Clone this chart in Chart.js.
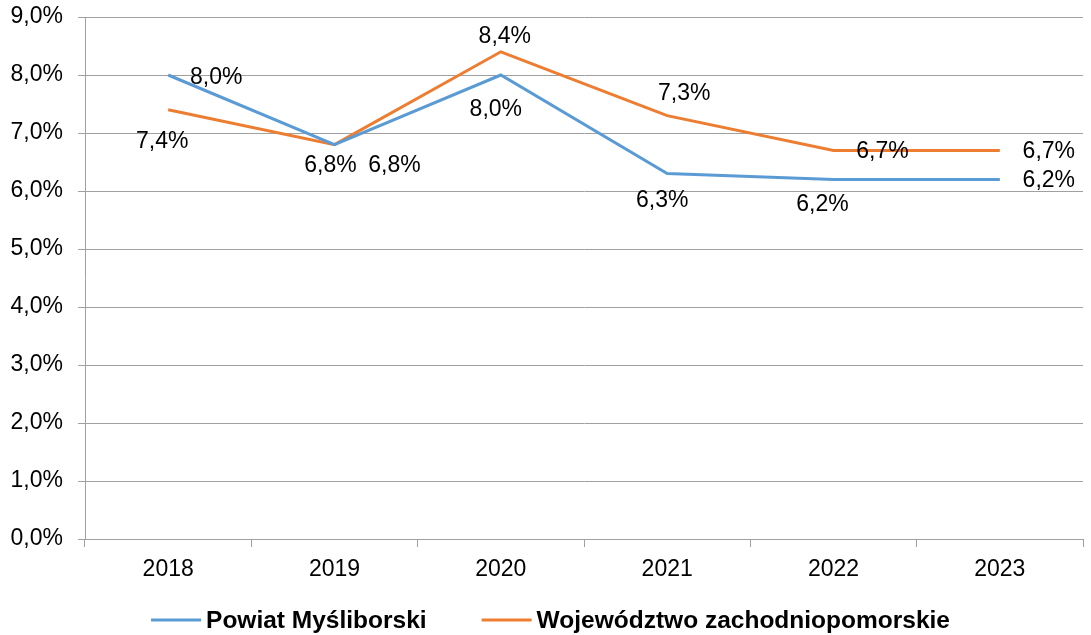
<!DOCTYPE html>
<html>
<head>
<meta charset="utf-8">
<script src="https://cdn.jsdelivr.net/npm/chart.js@4.4.1/dist/chart.umd.min.js"></script>
<style>
  html, body { margin: 0; padding: 0; background: #fff; }
  #wrap { width: 1091px; height: 635px; }
</style>
</head>
<body>
<div id="wrap"><canvas id="c" width="1091" height="635"></canvas></div>
<script>
// ---- data ----
const categories = ['2018', '2019', '2020', '2021', '2022', '2023'];
const seriesNames = ['Powiat Myśliborski', 'Województwo zachodniopomorskie'];
const powiatValues = [8.0, 6.8, 8.0, 6.3, 6.2, 6.2];
const wojewodztwoValues = [7.4, 6.8, 8.4, 7.3, 6.7, 6.7];
const yTicks = [0, 1, 2, 3, 4, 5, 6, 7, 8, 9];

// ---- label placement (offset of label centre from its point, px) ----
const powiatLabelOffsets = [[48, 3], [-4, 21], [-5, 35], [-5, 27], [-11, 25], [49, 1]];
const wojLabelOffsets = [[-6, 32], [60, 21], [4, -15], [17, -22], [49, 1], [49, 1]];

const FONT = '"Liberation Sans", Arial, sans-serif';
const fmt = v => v.toFixed(1).replace('.', ',') + '%';

const dataLabelPlugin = {
  id: 'dataLabels',
  afterDatasetsDraw(chart) {
    const ctx = chart.ctx;
    ctx.save();
    ctx.font = '23px ' + FONT;
    ctx.fillStyle = '#000';
    ctx.textAlign = 'center';
    ctx.textBaseline = 'middle';
    chart.data.datasets.forEach((ds, di) => {
      const meta = chart.getDatasetMeta(di);
      const offs = ds.labelOffsets;
      meta.data.forEach((pt, i) => {
        const o = offs[i];
        ctx.fillText(fmt(ds.data[i]), pt.x + o[0], pt.y + o[1]);
      });
    });
    ctx.restore();
  }
};

// custom bottom legend (line sample + bold text)
const legendPlugin = {
  id: 'customLegend',
  afterDraw(chart) {
    const ctx = chart.ctx;
    ctx.save();
    ctx.font = 'bold 24.5px ' + FONT;
    const lineW = 50, gap = 5, itemGap = 55;
    const items = chart.data.datasets.map(ds => ({
      text: ds.label, color: ds.borderColor, w: ctx.measureText(ds.label).width
    }));
    let total = 0;
    items.forEach((it, i) => { total += lineW + gap + it.w + (i ? itemGap : 0); });
    let x = (chart.width - total) / 2 + 5;
    const y = 620;
    items.forEach((it, i) => {
      if (i) x += itemGap;
      ctx.strokeStyle = it.color;
      ctx.lineWidth = 3;
      ctx.beginPath();
      ctx.moveTo(x, y);
      ctx.lineTo(x + lineW, y);
      ctx.stroke();
      x += lineW + gap;
      ctx.fillStyle = '#000';
      ctx.textAlign = 'left';
      ctx.textBaseline = 'middle';
      ctx.fillText(it.text, x, y + 1);
      x += it.w;
    });
    ctx.restore();
  }
};

const chart = new Chart(document.getElementById('c'), {
  type: 'line',
  data: {
    labels: categories,
    datasets: [
      {
        label: seriesNames[0],
        data: powiatValues,
        borderColor: '#5B9BD5',
        backgroundColor: '#5B9BD5',
        borderWidth: 3,
        pointRadius: 0,
        tension: 0,
        labelOffsets: powiatLabelOffsets
      },
      {
        label: seriesNames[1],
        data: wojewodztwoValues,
        borderColor: '#ED7D31',
        backgroundColor: '#ED7D31',
        borderWidth: 3,
        pointRadius: 0,
        tension: 0,
        labelOffsets: wojLabelOffsets
      }
    ]
  },
  options: {
    responsive: false,
    animation: false,
    devicePixelRatio: 1,
    layout: { padding: { left: 0, right: 8, top: 17, bottom: 44 } },
    plugins: {
      tooltip: { enabled: false },
      legend: { display: false }
    },
    scales: {
      x: {
        offset: true,
        grid: {
          offset: true,
          drawOnChartArea: false,
          drawTicks: true,
          tickLength: 8,
          color: '#a0a0a0'
        },
        border: { color: '#a0a0a0' },
        ticks: {
          color: '#000',
          padding: 9,
          maxRotation: 0,
          font: { family: FONT, size: 23 }
        },
        afterFit(scale) { scale.height = 52; scale.paddingLeft = 0; scale.paddingRight = 0; }
      },
      y: {
        min: 0,
        max: 9,
        afterBuildTicks(scale) { scale.ticks = yTicks.map(v => ({ value: v })); },
        grid: {
          color: '#a0a0a0',
          tickLength: 7,
          drawTicks: true
        },
        border: { color: '#a0a0a0' },
        ticks: {
          color: '#000',
          padding: 15,
          font: { family: FONT, size: 23 },
          callback: v => fmt(v)
        },
        afterFit(scale) { scale.width = 85; scale.paddingTop = 0; scale.paddingBottom = 0; }
      }
    }
  },
  plugins: [dataLabelPlugin, legendPlugin]
});
</script>
</body>
</html>
